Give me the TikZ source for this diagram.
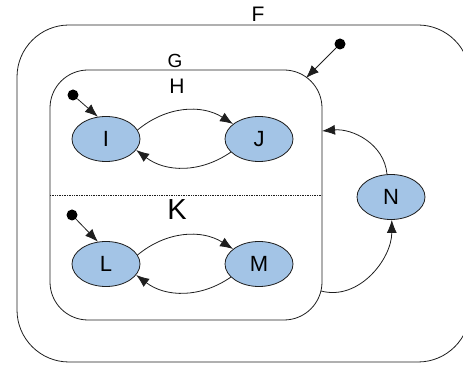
\documentclass[tikz,border=0pt]{standalone}
\usepackage{fontspec}
\setmainfont{Liberation Sans}
\usetikzlibrary{shapes.geometric,arrows.meta}
\definecolor{stfill}{RGB}{163,196,230}
\definecolor{ln}{RGB}{30,30,30}
\tikzset{
  st/.style={ellipse, draw=ln, line width=0.8pt, fill=stfill, minimum width=68pt, minimum height=45pt, inner sep=0pt, font=\fontsize{22}{22}\selectfont},
  initdot/.style={circle, fill=black, minimum size=11pt, inner sep=0pt},
  lbl/.style={inner sep=0pt, font=\fontsize{#1}{#1}\selectfont},
  arr/.style={-{Latex[length=13pt,width=10pt]}, line width=0.8pt, draw=ln},
  box/.style={draw=ln, line width=0.8pt}
}
\begin{document}
\begin{tikzpicture}[x=1pt,y=1pt]
\useasboundingbox (0,0) rectangle (463,366);
% outer state F
\draw[box, rounded corners=52pt] (17,4) rectangle (470,341);
\node[lbl=21] (Flbl) at (258,352) {F};
% state G
\draw[box, rounded corners=38pt] (50,46) rectangle (322,296);
\node[lbl=19] (Glbl) at (175,305) {G};
\node[lbl=21] (Hlbl) at (177,280) {H};
\node[lbl=29] (Klbl) at (177,156) {K};
\draw[densely dotted, line width=0.7pt, draw=ln] (50,171) -- (322,171);
% anchors on G
\coordinate (Gtr) at (306,288);
\coordinate (Gin) at (322,235);
\coordinate (Gout) at (321,75);
% states
\node[st] (I) at (106,227) {I};
\node[st] (J) at (259,227) {J};
\node[st] (L) at (106,102) {L};
\node[st] (M) at (259,102) {M};
\node[st] (N) at (391,169) {N};
% initial dots
\node[initdot] (d0) at (340,322) {};
\node[initdot] (d1) at (73,271) {};
\node[initdot] (d2) at (72,151) {};
% arrows
\draw[arr] (d0) -- (Gtr);
\draw[arr] (d1) -- (I.110);
\draw[arr] (d2) -- (L.110);
\draw[arr] (I.16) to[bend left=36] (J.150);
\draw[arr] (J.205) to[bend left=36] (I.-20);
\draw[arr] (L.16) to[bend left=36] (M.150);
\draw[arr] (M.205) to[bend left=36] (L.-20);
\draw[arr] (N.100) to[out=95, in=5] (Gin);
\draw[arr] (Gout) to[out=-15, in=-90] (N.-88);
\end{tikzpicture}
\end{document}
